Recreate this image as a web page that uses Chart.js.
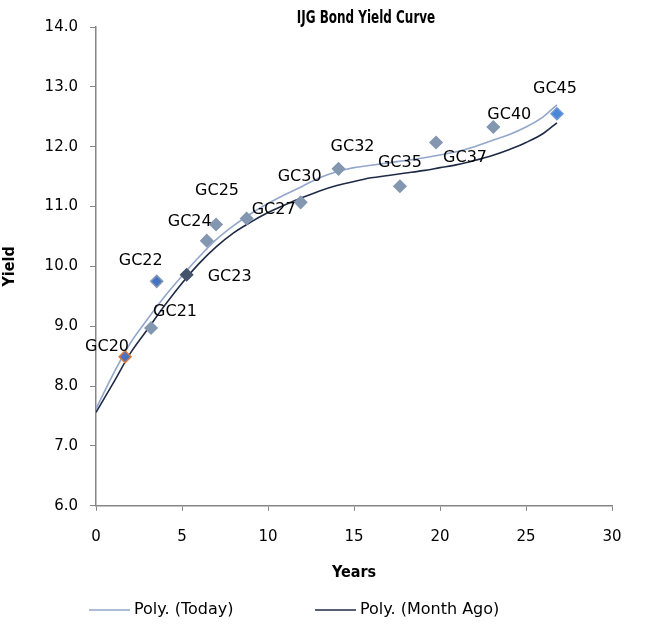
<!DOCTYPE html>
<html>
<head>
<meta charset="utf-8">
<title>IJG Bond Yield Curve</title>
<script src="https://cdn.jsdelivr.net/npm/chart.js@4.4.1/dist/chart.umd.min.js"></script>
<style>
  html, body { margin: 0; padding: 0; background: #fff; }
  #wrap { width: 650px; height: 628px; }
</style>
</head>
<body>
<div id="wrap"><canvas id="yieldChart"></canvas></div>
<script>
// bonds (today)
const bondNames  = ["GC20","GC21","GC22","GC23","GC24","GC25","GC27","GC30","GC32","GC35","GC37","GC40","GC45"];
const bondYears  = [1.69, 3.2, 3.53, 5.27, 6.44, 6.98, 8.76, 11.9, 14.1, 17.67, 19.77, 23.1, 26.8];
const bondYields = [8.49, 8.97, 9.75, 9.86, 10.43, 10.70, 10.80, 11.07, 11.63, 11.34, 12.07, 12.33, 12.55];

// trend lines
const curveYears    = [0, 1, 2, 3, 4, 5, 6, 7, 8, 9, 10, 11, 12, 13, 14, 15, 16, 17, 18, 19, 20, 21, 22, 23, 24, 25, 26, 26.8];
const todayCurve    = [7.62, 8.2, 8.72, 9.12, 9.5, 9.84, 10.16, 10.45, 10.68, 10.88, 11.05, 11.2, 11.34, 11.48, 11.58, 11.65, 11.69, 11.73, 11.77, 11.81, 11.86, 11.92, 12.0, 12.1, 12.2, 12.33, 12.5, 12.7];
const monthAgoCurve = [7.56, 8.05, 8.55, 8.95, 9.35, 9.72, 10.05, 10.33, 10.56, 10.74, 10.9, 11.03, 11.15, 11.26, 11.35, 11.42, 11.48, 11.52, 11.56, 11.6, 11.65, 11.7, 11.77, 11.85, 11.95, 12.07, 12.22, 12.4];

const xRange = [0, 30, 5];
const yRange = [6, 14, 1];

// label placement relative to each diamond (px)
const labelOffsets = [[-18,-10],[24,-16],[-16,-21],[43,2],[-17,-19],[1,-34],[27,-9],[-1,-26],[14,-22],[0,-23],[29,15],[16,-12],[-2,-25]];

const pointFill   = ["#4a72c0","#8497b0","#4472c4","#44546a","#8497b0","#8497b0","#8497b0","#8497b0","#8497b0","#8497b0","#8497b0","#8497b0","#4a86d8"];
const pointBorder = ["#e07b39","#8497b0","#8497b0","#44546a","#8497b0","#8497b0","#8497b0","#8497b0","#8497b0","#8497b0","#8497b0","#8497b0","#6f9ad8"];

const FONT = "'DejaVu Sans', sans-serif";
const BOLD = "'DejaVu Sans Condensed', 'Liberation Sans Narrow', sans-serif";
const axisColor = "#868686";

const toXY = (xs, ys) => xs.map((x, i) => ({x: x, y: ys[i]}));

const extras = {
  id: "extras",
  afterDatasetsDraw(chart) {
    const ctx = chart.ctx;
    const meta = chart.getDatasetMeta(2);
    ctx.save();
    ctx.fillStyle = "#000";
    ctx.font = "16px " + FONT;
    ctx.textAlign = "center";
    ctx.textBaseline = "middle";
    meta.data.forEach((pt, i) => {
      ctx.fillText(bondNames[i], pt.x + labelOffsets[i][0], pt.y + labelOffsets[i][1]);
    });
    ctx.restore();
  },
  afterDraw(chart) {
    const ctx = chart.ctx;
    ctx.save();
    // title, squeezed a bit like the narrow original font
    ctx.fillStyle = "#000";
    ctx.font = "bold 18px " + BOLD;
    ctx.textAlign = "center";
    ctx.textBaseline = "middle";
    ctx.translate(366, 18);
    ctx.scale(0.74, 1);
    ctx.fillText("IJG Bond Yield Curve", 0, 0);
    ctx.setTransform(1, 0, 0, 1, 0, 0);
    // legend
    const items = [[0, 89], [1, 315]];
    ctx.font = "16px " + FONT;
    ctx.textAlign = "left";
    items.forEach(([di, x]) => {
      const ds = chart.data.datasets[di];
      ctx.strokeStyle = ds.borderColor;
      ctx.lineWidth = 1.5;
      ctx.beginPath();
      ctx.moveTo(x, 610);
      ctx.lineTo(x + 41, 610);
      ctx.stroke();
      ctx.fillText(ds.label, x + 45, 610);
    });
    ctx.restore();
  }
};

new Chart(document.getElementById("yieldChart"), {
  type: "scatter",
  data: {
    datasets: [
      {
        type: "line",
        label: "Poly. (Today)",
        data: toXY(curveYears, todayCurve),
        borderColor: "#93a6cb",
        borderWidth: 1.6,
        pointRadius: 0,
        cubicInterpolationMode: "monotone",
        order: 2
      },
      {
        type: "line",
        label: "Poly. (Month Ago)",
        data: toXY(curveYears, monthAgoCurve),
        borderColor: "#1f2b46",
        borderWidth: 1.6,
        pointRadius: 0,
        cubicInterpolationMode: "monotone",
        order: 1
      },
      {
        label: "Today",
        data: toXY(bondYears, bondYields),
        pointStyle: "rectRot",
        pointRadius: 6,
        pointHoverRadius: 6,
        backgroundColor: pointFill,
        borderColor: pointBorder,
        borderWidth: 1.5,
        order: 0
      }
    ]
  },
  options: {
    responsive: true,
    maintainAspectRatio: false,
    animation: false,
    layout: { padding: { top: 27, right: 38, bottom: 46, left: 0 } },
    plugins: {
      legend: { display: false },
      title: { display: false },
      tooltip: { enabled: false }
    },
    scales: {
      x: {
        type: "linear",
        min: xRange[0], max: xRange[1],
        ticks: { stepSize: xRange[2], color: "#000", font: { family: FONT, size: 15 }, padding: 17 },
        grid: { drawOnChartArea: false, drawTicks: true, tickLength: 5, color: axisColor },
        border: { color: axisColor, width: 1.5 },
        title: { display: true, text: "Years", color: "#000", font: { family: BOLD, size: 16, weight: "bold" }, padding: { top: 0, bottom: 0 } }
      },
      y: {
        min: yRange[0], max: yRange[1],
        afterFit(scale) { scale.width = 96; },
        ticks: { stepSize: yRange[2], color: "#000", font: { family: FONT, size: 15 }, padding: 12, callback: v => v.toFixed(1) },
        grid: { drawOnChartArea: false, drawTicks: true, tickLength: 6, color: axisColor },
        border: { color: axisColor, width: 1.5 },
        title: { display: true, text: "Yield", color: "#000", font: { family: BOLD, size: 16, weight: "bold" }, padding: { top: 0, bottom: 4 } }
      }
    }
  },
  plugins: [extras]
});
</script>
</body>
</html>
